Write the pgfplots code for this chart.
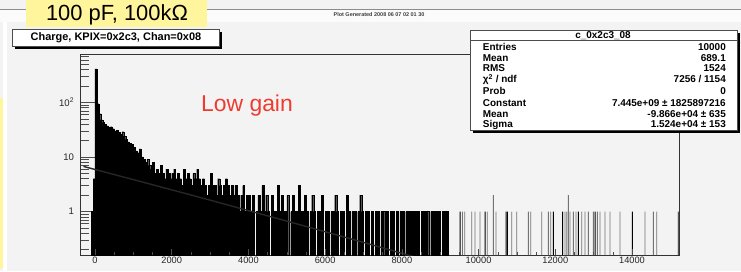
\documentclass[border=0pt]{standalone}
\usepackage{pgfplots}
\pgfplotsset{compat=1.18}
\usepackage{pgfplotstable}
\usepackage{fontspec}
\setmainfont{Liberation Sans}
\definecolor{bg}{RGB}{243,243,243}
\definecolor{paleyellow}{RGB}{255,245,157}
\definecolor{lowred}{RGB}{239,59,47}
\newcommand{\statfont}{\bfseries\fontsize{10}{11}\selectfont}

% dense part of the histogram: bin centre, count (bin width 50)
\pgfplotstableread{
x y
-75 1
-25 4
25 410
75 95
125 62
175 48
225 43
275 40
325 37
375 35
425 36
475 33
525 30
575 31
625 28
675 26
725 29
775 24
825 21
875 19
925 18
975 17
1025 15
1075 13
1125 12
1175 14
1225 10
1275 9
1325 8
1375 9
1425 7
1475 6
1525 8
1575 5
1625 6
1675 5
1725 7
1775 5
1825 4
1875 6
1925 5
1975 4
2025 5
2075 6
2125 4
2175 5
2225 4
2275 3
2325 6
2375 4
2425 5
2475 4
2525 3
2575 5
2625 4
2675 6
2725 4
2775 3
2825 4
2875 3
2925 2
2975 3
3025 5
3075 3
3125 3
3175 2
3225 4
3275 3
3325 2
3375 3
3425 4
3475 3
3525 2
3575 3
3625 2
3675 3
3725 2
3775 1
3825 2
3875 3
3925 1
3975 2
4025 2
4075 1
4125 2
4225 1
4275 2
4325 1
4375 3
4425 1
4475 2
4525 1
4625 2
4675 1
4725 1
4775 3
4825 1
4875 2
4925 1
4975 1
5025 2
5125 1
5175 2
5225 1
5275 1
5325 3
5375 1
5425 1
5475 2
5525 1
5625 1
5675 2
5725 1
5825 1
5875 1
5925 2
6025 1
6075 1
6175 1
6225 1
6275 2
6325 1
6425 1
6475 1
6575 2
6625 1
6725 1
6775 1
6875 1
6925 2
6975 1
7075 1
7125 1
7225 1
7325 1
7375 1
7475 1
7525 1
7625 1
7725 1
7775 1
7875 1
7975 1
8025 1
8125 1
8175 1
8225 1
8275 1
8325 1
8375 1
8425 1
8525 1
8575 1
8625 1
8675 1
8775 1
8825 1
8875 1
8925 1
8975 1
9075 1
9125 1
9175 1
}\dense

% sparse tail, dark entries
\pgfplotstableread{
x y
9520 1
10168 1
10715 1
10750 1
11949 1
12193 1
12602 1
13036 1
14008 1
15205 1
}\taildark

% sparse tail, light entries
\pgfplotstableread{
x y
9580 1
9640 1
9820 1
9907 1
10037 1
10228 1
10385 2
10455 1
10863 1
10994 1
11297 1
11358 1
11645 1
11819 1
11880 1
12254 1
12297 1
12341 2
12384 1
12471 1
12541 1
12689 1
12776 1
12862 1
12992 1
13097 1
13166 1
13296 1
13427 1
13687 1
14339 1
14556 1
14643 1
}\taillight

\begin{document}
\begin{tikzpicture}[x=1bp,y=1bp]
\fill[bg] (0,0) rectangle (741,271);
\useasboundingbox (0,0) rectangle (741,271);
% top band with generation stamp
\fill[white!70!bg] (0,249) rectangle (741,262);
\draw[black!45, line width=0.7bp] (0,262) -- (741,262);
\fill[white] (3,0) rectangle (6.5,249);
\fill[paleyellow] (0,3) rectangle (2.8,173);
\node[font=\bfseries\fontsize{5.5}{6}\selectfont, text=black!75] at (379,256) {Plot Generated 2008 06 07 02 01 30};
% yellow label
\fill[paleyellow] (26,244) rectangle (207,271);
\node[font=\fontsize{22}{24}\selectfont] at (117,256.5) {100 pF, 100kΩ};
% histogram title box
\fill[black] (14.5,222) rectangle (222,239.5);
\filldraw[fill=white, draw=black!70, line width=0.6bp] (12,224.5) rectangle (219.5,242);
\node[font=\bfseries\fontsize{11}{12}\selectfont] at (116,233.5) {Charge, KPIX=0x2c3, Chan=0x08};

\begin{axis}[
  at={(80bp,16bp)}, anchor=south west, scale only axis,
  width=599bp, height=201bp,
  xmin=-390, xmax=15225, ymin=0.16, ymax=770,
  ymode=log, log origin y=infty,
  axis line style={black!80, line width=0.7bp},
  xtick=\empty, scaled x ticks=false,
  ytick={1,10,100}, yticklabels={1,10,10\textsuperscript{2}},
  minor ytick={0.2,0.3,0.4,0.5,0.6,0.7,0.8,0.9,2,3,4,5,6,7,8,9,20,30,40,50,60,70,80,90,200,300,400,500,600,700},
  tick align=inside, ytick pos=left,
  major tick length=16bp, minor tick length=9bp,
  tick style={black!70, line width=0.5bp},
  yticklabel style={font=\fontsize{9.6}{10}\selectfont, text=black!85, xshift=-2.5bp},
]
\addplot[ybar, bar width=50, bar shift=0pt, fill=black, draw=black, line width=0.15bp] table[x=x, y=y] {\dense};
\addplot[ybar, bar width=22, bar shift=0pt, fill=black!55, draw=none] table[x=x, y=y] {\taillight};
\addplot[ybar, bar width=25, bar shift=0pt, fill=black, draw=none] table[x=x, y=y] {\taildark};
\addplot[black!85, line width=1.4bp, smooth] coordinates {
(-300,6.71) (0,5.91) (500,4.77) (1000,3.85) (2000,2.50) (3000,1.62) (4000,1.04)
(5000,0.669) (6000,0.427) (7000,0.272) (8000,0.172) (8300,0.150)};
\end{axis}

\begin{axis}[
  at={(80bp,16bp)}, anchor=south west, scale only axis,
  width=599bp, height=201bp,
  xmin=-390, xmax=15225, ymin=0.16, ymax=770,
  ymode=log,
  axis x line*=bottom, axis y line=none, axis line style={draw=none},
  ytick=\empty, scaled x ticks=false,
  xtick={0,2000,...,14000},
  xticklabels={0,2000,4000,6000,8000,10000,12000,14000},
  minor x tick num=3,
  tick align=inside, major tick length=6bp, minor tick length=3bp,
  tick style={black!70, line width=0.5bp},
  xticklabel style={font=\fontsize{9.3}{10}\selectfont, text=black!85, inner sep=1.5bp},
]
\end{axis}

\node[font=\fontsize{23}{25}\selectfont, text=lowred] at (247,165) {Low gain};

% statistics box
\fill[black] (472.5,138.5) rectangle (739.5,238);
\filldraw[fill=white, draw=black!70, line width=0.6bp] (470,141) rectangle (737,241);
\draw[black!70, line width=0.6bp] (470,230.5) -- (737,230.5);
\node[font=\statfont, anchor=base] at (603,232.5) {c\_0x2c3\_08};
\begin{scope}[every node/.style={font=\statfont, inner sep=0pt}]
\node[anchor=base west] at (482.7,220.2) {Entries};
\node[anchor=base east] at (726,220.2) {10000};
\node[anchor=base west] at (482.7,209.8) {Mean};
\node[anchor=base east] at (726,209.8) {689.1};
\node[anchor=base west] at (482.7,199.2) {RMS};
\node[anchor=base east] at (726,199.2) {1524};
\node[anchor=base west] at (482.7,188.2) {χ\textsuperscript{2} / ndf};
\node[anchor=base east] at (726,188.2) {7256 / 1154};
\node[anchor=base west] at (482.7,176.2) {Prob};
\node[anchor=base east] at (726,176.2) {0};
\node[anchor=base west] at (482.7,164.2) {Constant};
\node[anchor=base east] at (726,164.2) {7.445e+09 ± 1825897216};
\node[anchor=base west] at (482.7,153.8) {Mean};
\node[anchor=base east] at (726,153.8) {-9.866e+04 ± 635};
\node[anchor=base west] at (482.7,143.5) {Sigma};
\node[anchor=base east] at (726,143.5) {1.524e+04 ± 153};
\end{scope}
\end{tikzpicture}
\end{document}
